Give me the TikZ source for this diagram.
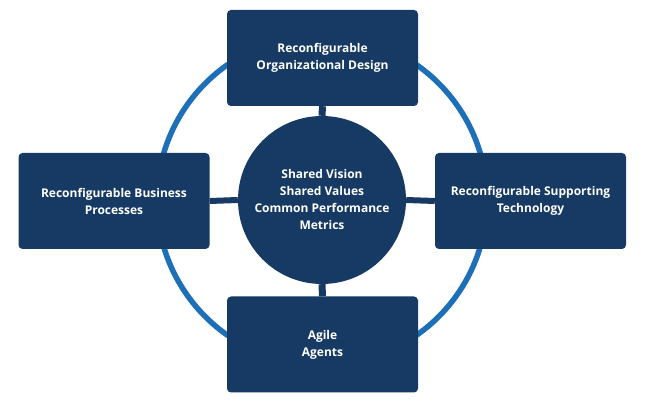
\documentclass[tikz,border=0pt]{standalone}
\usepackage{fontspec}
\setmainfont{Open Sans}
\definecolor{navy}{HTML}{163A63}
\definecolor{ringblue}{HTML}{1D6FB8}
\begin{document}
\begin{tikzpicture}[x=1pt,y=-1pt,
  box/.style={draw=none,fill=navy,rounded corners=4pt,minimum width=191pt,minimum height=96pt,
    text=white,font=\bfseries\fontsize{12}{17}\selectfont,align=center,inner sep=0pt},
  hub/.style={circle,fill=navy,minimum size=168pt,inner sep=0pt,text=white,
    font=\bfseries\fontsize{12}{17}\selectfont,align=center},
  stem/.style={draw=navy,line width=7pt},
  ringline/.style={draw=ringblue,line width=5.5pt}]
\useasboundingbox (0,0) rectangle (649,403);
\fill[white] (0,0) rectangle (649,403);
\coordinate (c) at (322,200);
\draw[ringline] (c) circle[radius=165];
\node[hub] (h) at (c) {Shared Vision\\Shared Values\\Common Performance\\Metrics};
\node[box] (t) at (322.5,58) {Reconfigurable\\Organizational Design};
\node[box] (l) at (114,201) {Reconfigurable Business\\Processes};
\node[box] (r) at (530.5,201) {Reconfigurable Supporting\\Technology};
\node[box] (b) at (322.5,344.5) {Agile\\Agents};
\draw[stem] (t.south) -- (h.north);
\draw[stem] (b.north) -- (h.south);
\draw[stem,line width=6pt] (l.east) -- (h.west);
\draw[stem,line width=6pt] (r.west) -- (h.east);
\end{tikzpicture}
\end{document}
